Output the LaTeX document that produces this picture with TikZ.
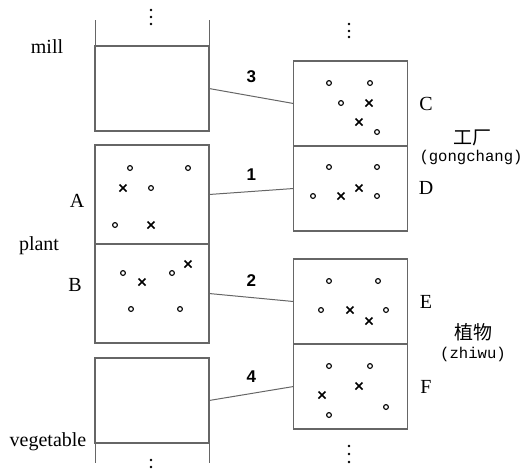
\documentclass[tikz,border=0pt]{standalone}
\usepackage{fontspec}
\setmainfont{Liberation Serif}
\setsansfont{Liberation Sans}
\setmonofont{Liberation Mono}
\newfontfamily\cjk{Noto Sans CJK SC}
\usetikzlibrary{positioning}
\tikzset{
  cell/.style={draw=black!60, line width=0.6pt, inner sep=0pt, outer sep=0pt,
    minimum width=57pt, minimum height=#1},
  cell/.default=42.5pt,
  link/.style={draw=black!60, line width=0.5pt},
  num/.style={font=\sffamily\bfseries\fontsize{8.5}{10}\selectfont},
  word/.style={font=\fontsize{10}{12}\selectfont},
  pinyin/.style={font=\ttfamily\fontsize{7.8}{9}\selectfont},
  omark/.style={draw=black, line width=0.55pt},
  xmark/.style={draw=black, line width=0.75pt},
  dot/.style={fill=black}}

\begin{document}
\begin{tikzpicture}[x=0.5pt, y=-0.5pt]
\useasboundingbox (0,0) rectangle (524,473);
\node[cell] (mill) at (152,88.5) {};
\node[cell=49.5pt] (A) at (152,194.5) {};
\node[cell=49.5pt, below=0pt of A] (B) {};
\node[cell] (veg) at (152,400.5) {};
\node[cell] (C) at (350.5,103.5) {};
\node[cell, below=0pt of C] (D) {};
\node[cell] (E) at (350.5,301.5) {};
\node[cell, below=0pt of E] (F) {};
\coordinate (milltopl) at (95,20);
\coordinate (milltopr) at (209,20);
\coordinate (vegbotl) at (95,463);
\coordinate (vegbotr) at (209,463);
\draw[link] (mill.north west) -- (milltopl);
\draw[link] (mill.north east) -- (milltopr);
\draw[link] (veg.south west) -- (vegbotl);
\draw[link] (veg.south east) -- (vegbotr);
\draw[link] (mill.east) -- node[num, above=3pt] (n3) {3} (C.west);
\draw[link] (A.east) -- node[num, above=2pt] (n1) {1} (D.west);
\draw[link] (B.east) -- node[num, above=2pt] (n2) {2} (E.west);
\draw[link] (veg.east) -- node[num, above=2pt] (n4) {4} (F.west);
\node[word] (lmill) at (47,47) {mill};
\node[word] (lplant) at (39,246) {plant};
\node[word] (lveg) at (48,442) {vegetable};
\node[word] (lA) at (77,201) {A};
\node[word] (lB) at (75,285) {B};
\node[word] (lC) at (426,104) {C};
\node[word] (lD) at (426,188) {D};
\node[word] (lE) at (426,302) {E};
\node[word] (lF) at (426,387) {F};
\node[font=\cjk\fontsize{9.5}{11}\selectfont] (gc) at (472,138) {工厂};
\node[pinyin] (gcpy) at (471,157) {(gongchang)};
\node[font=\cjk\fontsize{9.5}{11}\selectfont] (zw) at (473,332) {植物};
\node[pinyin] (zwpy) at (473,354) {(zhiwu)};
\foreach \y in {10,17,24} \fill[dot] (151,\y) circle[radius=1.3];
\foreach \y in {24,31,37} \fill[dot] (349,\y) circle[radius=1.3];
\foreach \y in {460,467} \fill[dot] (151,\y) circle[radius=1.3];
\foreach \y in {446,454,462} \fill[dot] (349,\y) circle[radius=1.3];
\foreach \x/\y in {130/168,188/168,151/188,115/225,
                   123/273,172/273,131/309,180/309,
                   329/83,370/83,341/103,377/132,
                   329/167,377/167,313/196,377/196,
                   329/281,378/281,321/310,386/310,
                   329/366,370/366,386/407,329/415}
  \draw[omark] (\x,\y) circle[radius=2.4];
\foreach \x/\y in {123/188,151/225,142/282,188/264,
                   369/103,359/122,341/196,359/188,
                   350/310,369/321,359/386,322/395}
  \draw[xmark] (\x-3.5,\y-3.5) -- (\x+3.5,\y+3.5) (\x-3.5,\y+3.5) -- (\x+3.5,\y-3.5);
\end{tikzpicture}
\end{document}
